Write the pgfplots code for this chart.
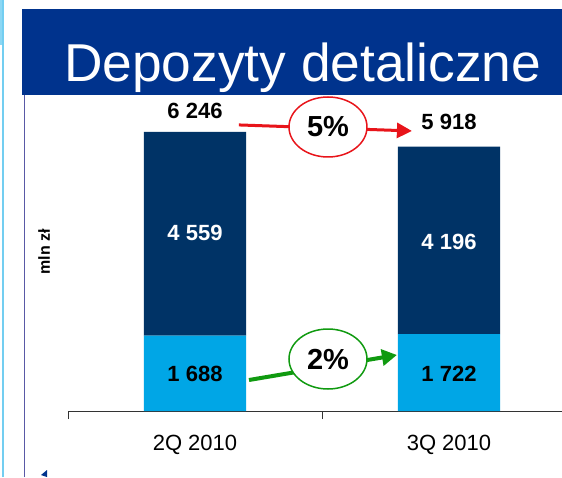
\documentclass[border=0pt]{standalone}
\usepackage{pgfplots}
\pgfplotsset{compat=1.18}
\usepackage{fontspec}
\setmainfont{Liberation Sans}
\usetikzlibrary{arrows.meta}
\definecolor{banner}{RGB}{0,51,141}
\definecolor{darkbar}{RGB}{0,51,102}
\definecolor{lightbar}{RGB}{0,166,230}
\definecolor{arrred}{RGB}{232,20,26}
\definecolor{arrgreen}{RGB}{16,154,16}
\begin{document}
\begin{tikzpicture}[x=1pt,y=1pt]
\path[use as bounding box] (0,0) rectangle (562,477);
\fill[white] (0,0) rectangle (562,477);
\fill[lightbar!45] (0,432) rectangle (4,477);
\draw[lightbar!55, line width=1.5pt] (3,0) -- (3,477);
\draw[gray!70!blue, line width=1pt] (24,0) -- (24,382);
\fill[banner] (22,382) rectangle (562,468);
\node[anchor=base west, inner sep=0, text=white, font=\fontsize{53.3}{53}\selectfont] at (64,395) {Depozyty detaliczne};
\node[rotate=90, font=\bfseries\fontsize{16}{16}\selectfont] at (44,225) {mln zł};
\fill[banner] (41,2) -- (47,7) -- (47,0) -- cycle;
\begin{axis}[at={(68pt,66pt)}, anchor=south west, scale only axis,
  width=494pt, height=279pt, xmin=-0.5, xmax=1.4449, ymin=0, ymax=6246,
  ybar stacked, bar width=102pt,
  axis x line=bottom, axis y line=none,
  axis line style={-, black!80, line width=0.8pt},
  xtick={0,1}, xticklabels={2Q 2010,3Q 2010},
  minor xtick={-0.5,0.5,1.5},
  major tick length=0pt, minor tick length=8pt, tick align=outside,
  minor tick style={black!80, line width=0.8pt},
  xticklabel style={font=\fontsize{22}{22}\selectfont, inner sep=0pt, anchor=north, yshift=-24pt},
  clip=false]
\addplot[fill=lightbar, draw=none] coordinates {(0,1688) (1,1722)};
\addplot[fill=darkbar, draw=none] coordinates {(0,4559) (1,4196)};
\coordinate (t1) at (axis cs:0,6717);
\coordinate (t2) at (axis cs:1,6471);
\coordinate (d1) at (axis cs:0,3985);
\coordinate (d2) at (axis cs:1,3784);
\coordinate (l1) at (axis cs:0,828);
\coordinate (l2) at (axis cs:1,828);
\coordinate (ra) at (axis cs:0.173,6404);
\coordinate (rb) at (axis cs:0.854,6269);
\coordinate (ga) at (axis cs:0.2126,694);
\coordinate (gb) at (axis cs:0.795,1254);
\coordinate (re) at (axis cs:0.5236,6358);
\coordinate (ge) at (axis cs:0.5236,1164);
\end{axis}
\tikzset{lab/.style={font=\bfseries\fontsize{22}{22}\selectfont}}
\node[lab] at (t1) {6 246};
\node[lab] at (t2) {5 918};
\node[lab, text=white] at (d1) {4 559};
\node[lab, text=white] at (d2) {4 196};
\node[lab] at (l1) {1 688};
\node[lab] at (l2) {1 722};
\draw[arrred, line width=3pt, -{Triangle[length=15pt,width=15pt]}] (ra) -- (rb);
\draw[arrgreen, line width=4pt, -{Triangle[length=15pt,width=16pt]}] (ga) -- (gb);
\draw[arrred, fill=white, line width=1.5pt] (re) ellipse [x radius=39pt, y radius=30pt];
\draw[arrgreen, fill=white, line width=1.5pt] (ge) ellipse [x radius=39pt, y radius=30pt];
\node[font=\bfseries\fontsize{29}{29}\selectfont] at (re) {5\%};
\node[font=\bfseries\fontsize{29}{29}\selectfont] at (ge) {2\%};
\end{tikzpicture}
\end{document}
